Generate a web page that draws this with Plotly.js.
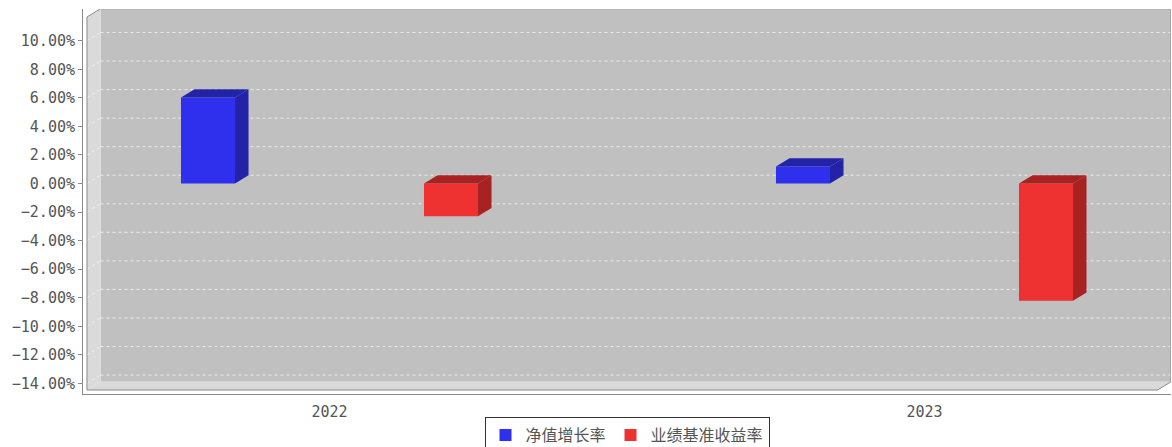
<!DOCTYPE html>
<html>
<head>
<meta charset="utf-8">
<script src="https://cdn.plot.ly/plotly-3.0.1.min.js"></script>
<style>
  html, body { margin: 0; padding: 0; background: #ffffff; }
  #chart { width: 1172px; height: 447px; }
</style>
</head>
<body>
<div id="chart"></div>
<script>
// ---- data ----
const categories = ['2022', '2023'];
const seriesNames = ['净值增长率', '业绩基准收益率'];
const navGrowth = [6.02, 1.19];
const benchmark = [-2.29, -8.22];
const yTickValues = [-14, -12, -10, -8, -6, -4, -2, 0, 2, 4, 6, 8, 10];
const yTickLabels = ['−14.00%', '−12.00%', '−10.00%', '−8.00%', '−6.00%', '−4.00%', '−2.00%',
                     '0.00%', '2.00%', '4.00%', '6.00%', '8.00%', '10.00%'];

// ---- styling / geometry (not data) ----
const frontColors = ['#2f2fee', '#ee3131'];
const darkColors = ['#2323a8', '#a82222'];
const barOffset = 0.2042;
const barWidth = 0.0908;
const dx = 0.0227;   // 3D depth in x-axis units
const dy = 0.58;     // 3D depth in y-axis units
const X0 = -0.4076, X1 = 1.3916;   // front plot edges
const YB = -14.466, YT = 11.664;   // front plot edges

const seriesValues = [navGrowth, benchmark];
const traces = [];

// side and top faces
seriesValues.forEach((vals, s) => {
  const off = s === 0 ? -barOffset : barOffset;
  vals.forEach((v, i) => {
    const xl = i + off - barWidth / 2;
    const xr = i + off + barWidth / 2;
    const top = Math.max(v, 0);
    const bot = Math.min(v, 0);
    traces.push({
      type: 'scatter', mode: 'lines', fill: 'toself',
      x: [xr, xr, xr + dx, xr + dx, xr],
      y: [bot, top, top + dy, bot + dy, bot],
      fillcolor: darkColors[s], line: {width: 0, color: darkColors[s]},
      showlegend: false, hoverinfo: 'skip'
    });
    traces.push({
      type: 'scatter', mode: 'lines', fill: 'toself',
      x: [xl, xr, xr + dx, xl + dx, xl],
      y: [top, top, top + dy, top + dy, top],
      fillcolor: darkColors[s], line: {width: 0, color: darkColors[s]},
      showlegend: false, hoverinfo: 'skip'
    });
  });
});

// front faces
seriesValues.forEach((vals, s) => {
  const off = s === 0 ? -barOffset : barOffset;
  traces.push({
    type: 'bar',
    name: seriesNames[s],
    x: categories.map((c, i) => i + off),
    y: vals,
    width: barWidth,
    marker: {color: frontColors[s], line: {width: 0}},
    hoverinfo: 'y'
  });
});

// walls and gridlines
const shapes = [];
shapes.push({type: 'path', xref: 'x', yref: 'y', layer: 'below',
  path: `M${X0 + dx},${YB + dy} L${X1 + dx},${YB + dy} L${X1 + dx},${YT + dy} L${X0 + dx},${YT + dy} Z`,
  fillcolor: '#c0c0c0', line: {width: 0}});
shapes.push({type: 'path', xref: 'x', yref: 'y', layer: 'below',
  path: `M${X0},${YB} L${X0 + dx},${YB + dy} L${X0 + dx},${YT + dy} L${X0},${YT} Z`,
  fillcolor: '#dadada', line: {width: 0}});
shapes.push({type: 'path', xref: 'x', yref: 'y', layer: 'below',
  path: `M${X0},${YB} L${X1},${YB} L${X1 + dx},${YB + dy} L${X0 + dx},${YB + dy} Z`,
  fillcolor: '#dadada', line: {width: 0}});
yTickValues.forEach(v => {
  shapes.push({type: 'line', xref: 'x', yref: 'y', layer: 'below',
    x0: X0 + dx, x1: X1 + dx, y0: v + dy, y1: v + dy,
    line: {color: '#ececec', width: 1, dash: '3px,3px'}});
  shapes.push({type: 'line', xref: 'x', yref: 'y', layer: 'below',
    x0: X0, x1: X0 + dx, y0: v, y1: v + dy,
    line: {color: '#f2f2f2', width: 1, dash: '3px,3px'}});
});
// outline
shapes.push({type: 'path', xref: 'x', yref: 'y', layer: 'below',
  path: `M${X0},${YB} L${X0},${YT} L${X0 + dx},${YT + dy} L${X1 + dx},${YT + dy} L${X1 + dx},${YB + dy} L${X1},${YB} Z`,
  line: {color: '#8a8a8a', width: 1}});

const layout = {
  width: 1172, height: 447,
  margin: {l: 83, r: 1, t: 9, b: 53, autoexpand: false},
  paper_bgcolor: '#ffffff',
  plot_bgcolor: '#ffffff',
  barmode: 'overlay',
  showlegend: true,
  font: {family: '"DejaVu Sans Mono", monospace', color: '#555555'},
  xaxis: {
    range: [-0.4143, 1.4143],
    tickvals: categories.map((c, i) => i),
    ticktext: categories,
    showgrid: false, zeroline: false,
    showline: true, linecolor: '#8a8a8a', linewidth: 1,
    ticks: '', ticklabelstandoff: 4,
    tickfont: {size: 15, color: '#555555', family: '"DejaVu Sans Mono", monospace'},
    automargin: false,
    fixedrange: true
  },
  yaxis: {
    range: [-14.746, 12.224],
    tickvals: yTickValues,
    ticktext: yTickLabels,
    showgrid: false, zeroline: false,
    showline: true, linecolor: '#8a8a8a', linewidth: 1,
    ticks: 'outside', ticklen: 4, tickcolor: '#8a8a8a',
    tickfont: {size: 15, color: '#555555', family: '"DejaVu Sans Mono", monospace'},
    automargin: false,
    fixedrange: true
  },
  legend: {
    orientation: 'h',
    x: 0.5, xanchor: 'center',
    y: -0.06, yanchor: 'top',
    bgcolor: '#ffffff', bordercolor: '#333333', borderwidth: 1,
    font: {family: '"Noto Sans CJK SC", sans-serif', size: 16, color: '#555555'},
    itemwidth: 30,
    tracegroupgap: 0
  },
  shapes: shapes
};

Plotly.newPlot('chart', traces, layout, {displayModeBar: false, staticPlot: true});
</script>
</body>
</html>
